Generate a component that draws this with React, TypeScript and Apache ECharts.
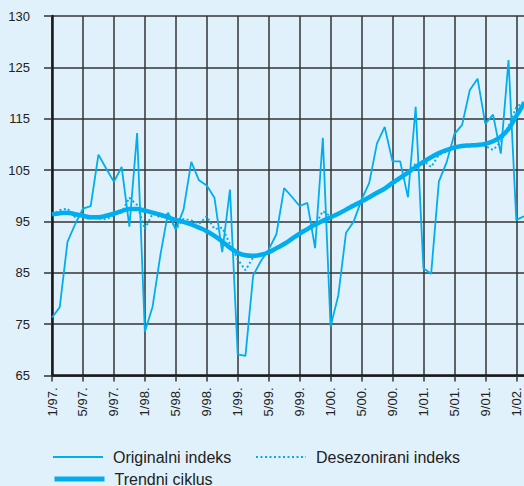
import React, { useEffect, useRef } from "react";
import * as echarts from "echarts";

const categories = [
  "1/97.", "2/97.", "3/97.", "4/97.", "5/97.", "6/97.", "7/97.", "8/97.", "9/97.", "10/97.", "11/97.", "12/97.",
  "1/98.", "2/98.", "3/98.", "4/98.", "5/98.", "6/98.", "7/98.", "8/98.", "9/98.", "10/98.", "11/98.", "12/98.",
  "1/99.", "2/99.", "3/99.", "4/99.", "5/99.", "6/99.", "7/99.", "8/99.", "9/99.", "10/99.", "11/99.", "12/99.",
  "1/00.", "2/00.", "3/00.", "4/00.", "5/00.", "6/00.", "7/00.", "8/00.", "9/00.", "10/00.", "11/00.", "12/00.",
  "1/01.", "2/01.", "3/01.", "4/01.", "5/01.", "6/01.", "7/01.", "8/01.", "9/01.", "10/01.", "11/01.", "12/01.",
  "1/02.", "2/02.",
];

const originalni = [
  76.3, 78.3, 91, 94.5, 97.5, 98, 108, 105.3, 102.7, 105.6,
  94, 112.2, 73.5, 78.4, 88.4, 96.7, 93.4, 97.3, 106.6, 103,
  102, 99.6, 89, 101.2, 69.1, 68.8, 84.5, 87.3, 89.5, 92.5,
  101.5, 99.8, 98, 98.6, 89.8, 111.3, 74.5, 80.6, 92.8, 95,
  99.2, 102.5, 110.2, 113.4, 106.7, 106.7, 99.7, 117.3, 85.9, 84.8,
  102.8, 106.5, 112, 113.8, 120.6, 122.8, 114, 115.8, 108.2, 126.4,
  95.3, 96,
];

const desezonirani = [
  96.2, 97.2, 97.5, 95.8, 96.3, 95.6, 95.6, 95.4, 96.3, 96.8,
  99.6, 98.2, 93.5, 96.5, 95.8, 96.5, 93.5, 95.5, 95.2, 94.5,
  96, 93.5, 93.8, 90.6, 87.6, 85.5, 88, 88.5, 88.9, 89.6,
  90.8, 91.5, 92.3, 93.5, 94.2, 97, 96, 96.4, 97.5, 98.4,
  98.8, 99.6, 100.8, 101.6, 102.2, 103.2, 104.6, 106.2, 106.8, 105.6,
  108, 108.6, 109.5, 109.8, 109.8, 109.9, 109.7, 108.9, 110.5, 113.5,
  117.2, 118.4,
];

const trendni = [
  96.4, 96.6, 96.7, 96.4, 96.1, 95.8, 95.8, 96.1, 96.5, 97,
  97.4, 97.4, 97.1, 96.7, 96.3, 95.8, 95.3, 94.9, 94.4, 93.8,
  93.1, 92.2, 91.1, 89.9, 88.9, 88.4, 88.3, 88.5, 89, 89.8,
  90.6, 91.6, 92.6, 93.5, 94.4, 95.1, 95.8, 96.5, 97.3, 98.1,
  98.9, 99.7, 100.6, 101.4, 102.5, 103.5, 104.5, 105.6, 106.6, 107.5,
  108.3, 108.9, 109.4, 109.7, 109.8, 109.9, 110.1, 110.6, 111.5, 113,
  115.5, 118,
];

const yTicks = [65, 75, 85, 95, 105, 115, 125, 135];
const yTickLabels = ["65", "75", "85", "95", "105", "115", "125", "130"];

const seriesNames = ["Originalni indeks", "Desezonirani indeks", "Trendni ciklus"];

const BLUE = "#00aeef";
const FONT = "'Liberation Sans', Arial, sans-serif";

export default function App() {
  const ref = useRef<HTMLDivElement>(null);

  useEffect(() => {
    if (!ref.current) return;
    const chart = echarts.init(ref.current, undefined, { renderer: "svg" });
    const legendText = { color: "#222", fontSize: 16, fontFamily: FONT, padding: [0, 0, 0, 5] };
    const legendBase = {
      padding: 0,
      itemWidth: 50,
      itemHeight: 16,
      textStyle: legendText,
      itemStyle: { opacity: 0 },
    };
    chart.setOption({
      animation: false,
      backgroundColor: "#e0f1fb",
      textStyle: { fontFamily: FONT },
      grid: { left: 52, right: 0, top: 16, bottom: 110.5, containLabel: false },
      legend: [
        {
          ...legendBase, data: [seriesNames[0]], left: 52, top: 449,
          lineStyle: { color: BLUE, width: 2 },
        },
        {
          ...legendBase, data: [seriesNames[1]], left: 255, top: 449,
          lineStyle: { color: BLUE, width: 2, type: [2, 2.5] },
        },
        {
          ...legendBase, data: [seriesNames[2]], left: 52, top: 471,
          lineStyle: { color: BLUE, width: 5 },
        },
      ],
      xAxis: {
        type: "category",
        data: categories,
        boundaryGap: false,
        axisLine: { show: true, lineStyle: { color: "#1a1a1a", width: 2.5 } },
        axisTick: { show: true, interval: 3, length: 6, lineStyle: { color: "#333", width: 1.5 } },
        axisLabel: {
          interval: 3, rotate: 90, margin: 12, color: "#222", fontSize: 13, fontFamily: FONT,
        },
        splitLine: { show: true, interval: 3, lineStyle: { color: "#333", width: 1.5 } },
      },
      yAxis: {
        type: "value",
        min: 65,
        max: 135,
        interval: 10,
        axisLine: { show: true, lineStyle: { color: "#1a1a1a", width: 2.5 } },
        axisTick: { show: true, length: 8, lineStyle: { color: "#333", width: 1.5 } },
        axisLabel: {
          margin: 22, color: "#222", fontSize: 13, fontFamily: FONT,
          formatter: (v: number) => {
            const k = yTicks.indexOf(v);
            return k >= 0 ? yTickLabels[k] : "";
          },
        },
        splitLine: { show: true, lineStyle: { color: "#333", width: 1.5 } },
      },
      series: [
        {
          name: seriesNames[0], type: "line", data: originalni, symbol: "none",
          lineStyle: { color: BLUE, width: 1.8 }, itemStyle: { color: BLUE },
        },
        {
          name: seriesNames[1], type: "line", data: desezonirani, symbol: "none",
          lineStyle: { color: BLUE, width: 2, type: [2, 2.5] }, itemStyle: { color: BLUE },
        },
        {
          name: seriesNames[2], type: "line", data: trendni, symbol: "none", smooth: 0.4,
          lineStyle: { color: BLUE, width: 4.5 }, itemStyle: { color: BLUE },
        },
      ],
    });
    return () => chart.dispose();
  }, []);

  return (
    <div
      ref={ref}
      style={{ position: "fixed", left: 0, top: 0, width: 524, height: 486 }}
    />
  );
}
